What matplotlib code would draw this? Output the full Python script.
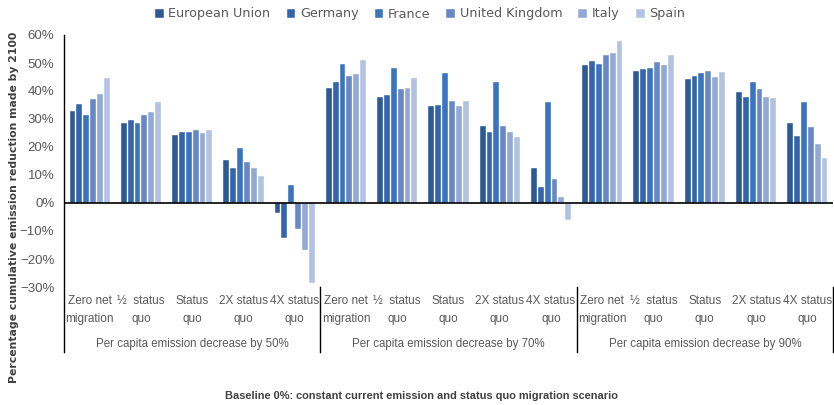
#!/usr/bin/env python3
"""Cumulative emission reduction by 2100, grouped bar chart."""
import matplotlib
matplotlib.use("Agg")
import matplotlib.pyplot as plt
import numpy as np
from matplotlib.ticker import PercentFormatter

countries = ["European Union", "Germany", "France", "United Kingdom", "Italy", "Spain"]
scenarios = [("Zero net", "migration"), ("½  status", "quo"), ("Status", "quo"),
             ("2X status", "quo"), ("4X status", "quo")]
decreases = ["Per capita emission decrease by 50%",
             "Per capita emission decrease by 70%",
             "Per capita emission decrease by 90%"]

# values in %, one list per country, 15 categories (3 decreases x 5 scenarios)
eu = [32.7, 28.7, 24.4, 15.5, -3.7, 41.2, 38.0, 34.5, 27.6, 12.6, 49.4, 47.0, 44.4, 39.5, 28.7]
germany = [35.2, 29.5, 25.2, 12.6, -12.6, 43.2, 38.7, 35.0, 25.2, 5.6, 50.8, 47.7, 45.2, 37.7, 23.8]
france = [31.3, 28.6, 25.4, 19.8, 6.6, 49.7, 48.1, 46.5, 43.2, 35.9, 49.6, 48.1, 46.5, 43.3, 36.0]
uk = [37.0, 31.6, 26.2, 14.7, -9.4, 45.2, 40.7, 36.5, 27.6, 8.5, 53.0, 50.2, 47.2, 40.8, 27.0]
italy = [39.1, 32.6, 24.9, 12.6, -16.7, 46.2, 40.9, 34.8, 25.2, 2.1, 53.4, 49.4, 44.9, 38.0, 21.2]
spain = [44.7, 35.9, 25.9, 9.7, -28.4, 51.1, 44.5, 36.3, 23.7, -6.0, 57.8, 52.9, 46.7, 37.5, 16.0]

series = [eu, germany, france, uk, italy, spain]
colors = ["#2C5A95", "#3464AC", "#3A74BF", "#6888C5", "#92A8D5", "#B3C1E2"]

cat_font = "Liberation Sans"
grey = "#595959"

fig = plt.figure(figsize=(8.34, 4.05), dpi=100)
ax = fig.add_axes([64 / 834, 1 - 287 / 405, 769 / 834, 252 / 405])

n_cat = len(eu)
x = np.arange(n_cat)
slot = 0.134
for i, (vals, col) in enumerate(zip(series, colors)):
    offs = (i - 2.5) * slot
    ax.bar(x + offs, vals, width=slot * 0.85, color=col, label=countries[i],
           edgecolor="white", linewidth=0.3)

ax.set_xlim(-0.5, n_cat - 0.5)
ax.set_ylim(-30, 60)
ax.set_yticks(np.arange(-30, 61, 10))
ax.yaxis.set_major_formatter(PercentFormatter(decimals=0))
ax.tick_params(axis="y", length=0, labelsize=9.5, labelcolor=grey, pad=7)
for lbl in ax.get_yticklabels():
    lbl.set_family(cat_font)
ax.set_xticks([])
for s in ["top", "right", "bottom", "left"]:
    ax.spines[s].set_visible(False)
ax.axhline(0, color="black", linewidth=1.2)

# multi-level category axis
trans = ax.get_xaxis_transform()
for k in range(n_cat):
    line1, line2 = scenarios[k % 5]
    ax.text(k, -0.056, line1, transform=trans, ha="center", va="center",
            fontsize=8.5, family=cat_font, color=grey, clip_on=False)
    ax.text(k, -0.127, line2, transform=trans, ha="center", va="center",
            fontsize=8.5, family=cat_font, color=grey, clip_on=False)
for g in range(3):
    ax.text(g * 5 + 2, -0.226, decreases[g], transform=trans, ha="center", va="center",
            fontsize=8.3, family=cat_font, color=grey, clip_on=False)
for b in [-0.5, 4.5, 9.5, 14.5]:
    top = 1.0 if b == -0.5 else 0.0
    ax.plot([b, b], [-0.258, top], transform=trans, color="black", linewidth=1.0,
            clip_on=False)

ax.legend(loc="center", bbox_to_anchor=(420 / 834, 1 - 14 / 405), bbox_transform=fig.transFigure,
          ncol=6, frameon=False, fontsize=9.2, handlelength=0.7, handleheight=0.7,
          handletextpad=0.35, columnspacing=1.25, labelcolor=grey)

fig.text(14 / 834, 1 - 207 / 405, "Percentage cumulative emission reduction made by 2100",
         rotation=90, ha="center", va="center", fontsize=7.8, fontweight="bold", color="#404040")
fig.text(421 / 834, 1 - 396 / 405,
         "Baseline 0%: constant current emission and status quo migration scenario",
         ha="center", va="center", fontsize=7.9, fontweight="bold", family=cat_font, color="#404040")

fig.savefig("out.png", dpi=100)
